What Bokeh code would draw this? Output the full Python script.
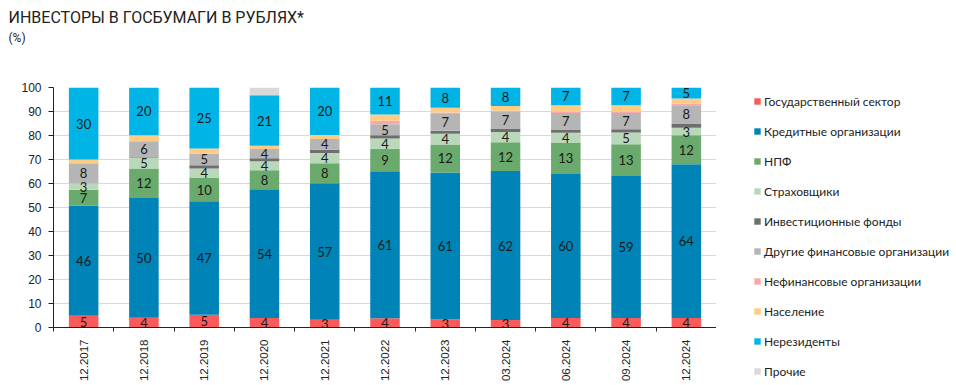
import math
from bokeh.plotting import figure
from bokeh.layouts import column, row
from bokeh.core.properties import value
from bokeh.models import (ColumnDataSource, FixedTicker, SingleIntervalTicker, Legend,
                          LegendItem, LabelSet, Label, Range1d)
from bokeh.embed import file_html
from bokeh.resources import INLINE

categories = ["12.2017", "12.2018", "12.2019", "12.2020", "12.2021", "12.2022",
              "12.2023", "03.2024", "06.2024", "09.2024", "12.2024"]

series_names = ["Государственный сектор", "Кредитные организации", "НПФ", "Страховщики",
                "Инвестиционные фонды", "Другие финансовые организации",
                "Нефинансовые организации", "Население", "Нерезиденты", "Прочие"]

gov        = [4.9, 4.1, 5.3, 4.0, 3.2, 3.9, 3.3, 3.1, 4.0, 4.0, 4.0]
banks      = [45.9, 49.9, 47.3, 53.6, 56.9, 61.2, 61.3, 62.1, 60.0, 59.1, 64.0]
npf        = [6.6, 12.2, 9.7, 7.9, 8.3, 9.4, 11.7, 12.0, 12.9, 13.3, 12.1]
insurers   = [2.6, 4.6, 3.9, 3.8, 4.3, 4.2, 4.4, 4.3, 4.2, 4.8, 3.1]
funds      = [0.0, 0.4, 1.4, 1.2, 1.4, 1.4, 1.3, 1.4, 1.4, 1.4, 1.8]
other_fin  = [8.4, 6.4, 4.9, 3.9, 4.4, 4.6, 7.0, 6.9, 6.9, 6.8, 7.6]
nonfin     = [0.0, 0.0, 0.0, 0.0, 0.0, 1.4, 0.6, 0.5, 0.4, 0.5, 0.6]
households = [1.6, 2.5, 2.1, 1.3, 1.7, 2.7, 2.0, 2.0, 2.8, 2.7, 2.2]
nonres     = [30.0, 19.9, 25.4, 21.1, 19.8, 11.2, 8.4, 7.7, 7.4, 7.4, 4.6]
others     = [0.0, 0.0, 0.0, 3.2, 0.0, 0.0, 0.0, 0.0, 0.0, 0.0, 0.0]

series_values = [gov, banks, npf, insurers, funds, other_fin, nonfin, households, nonres, others]
labelled = [True, True, True, True, False, True, False, False, True, False]
colors = ["#fa5a5a", "#0083b6", "#6aaa6c", "#b9d7b9", "#6e6e6e", "#b5b5b5",
          "#f9a9a9", "#ffcb85", "#00b5e6", "#d9d9d9"]

title_text = "ИНВЕСТОРЫ В ГОСБУМАГИ В РУБЛЯХ*"
subtitle_text = "(%)"

FONT = "Lato"
AXFONT = "Liberation Sans"


def blank(width, height):
    f = figure(width=width, height=height, output_backend="svg", toolbar_location=None,
               x_axis_location=None, y_axis_location=None, min_border=0,
               x_range=Range1d(0, 1), y_range=Range1d(0, 1))
    f.outline_line_color = None
    f.grid.visible = False
    f.title = None
    return f


# ---------- title strip ----------
head = blank(716, 79)
head.add_layout(Label(x=8, y=62, x_units="screen", y_units="screen", text=title_text,
                      text_font="Roboto", text_font_size="16px", text_color="#222222",
                      text_baseline="middle"))
head.add_layout(Label(x=8, y=42, x_units="screen", y_units="screen", text=subtitle_text,
                      text_font="Roboto", text_font_size="12px", text_color="#222222",
                      text_baseline="middle"))

# ---------- main chart ----------
keys = ["s%d" % i for i in range(len(series_values))]
xs = list(range(len(categories)))
data = {"x": xs}
for k, v in zip(keys, series_values):
    data[k] = v
src = ColumnDataSource(data)

p = figure(width=716, height=306, output_backend="svg", toolbar_location=None,
           x_range=(-0.5, len(categories) - 0.5), y_range=(0, 100),
           min_border_left=53, min_border_right=0, min_border_top=8, min_border_bottom=58)
p.title = None
p.outline_line_color = None

renderers = p.vbar_stack(keys, x="x", width=0.49, color=colors, line_color=None, source=src)

lx, ly, lt = [], [], []
for i in xs:
    base = 0.0
    for vals, lab in zip(series_values, labelled):
        v = vals[i]
        if lab and v > 0:
            lx.append(i)
            ly.append(base + v / 2.0)
            lt.append("%d" % int(math.floor(v + 0.5)))
        base += v
lsrc = ColumnDataSource(dict(x=lx, y=ly, t=lt))
p.add_layout(LabelSet(x="x", y="y", text="t", source=lsrc, text_align="center",
                      text_baseline="middle", text_font=value(FONT), text_font_size=value("13px"),
                      text_color="#1a1a1a"))

p.xgrid.visible = False
p.ygrid.grid_line_color = "#d9d9d9"
p.ygrid.grid_line_width = 1

p.yaxis.ticker = SingleIntervalTicker(interval=10)
p.yaxis.axis_line_color = "#222222"
p.yaxis.major_tick_line_color = "#222222"
p.yaxis.major_tick_out = 5
p.yaxis.major_tick_in = 0
p.yaxis.minor_tick_line_color = None
p.yaxis.major_label_text_font = AXFONT
p.yaxis.major_label_text_font_size = "12px"
p.yaxis.major_label_text_color = "#222222"
p.yaxis.major_label_standoff = 7

p.xaxis.ticker = FixedTicker(ticks=xs, minor_ticks=[i - 0.5 for i in xs] + [len(xs) - 0.5])
p.xaxis.major_label_overrides = {i: c for i, c in zip(xs, categories)}
p.xaxis.axis_line_color = "#222222"
p.xaxis.major_tick_line_color = None
p.xaxis.minor_tick_line_color = "#222222"
p.xaxis.minor_tick_out = 4
p.xaxis.minor_tick_in = 0
p.xaxis.major_label_orientation = math.pi / 2
p.xaxis.major_label_text_font = AXFONT
p.xaxis.major_label_text_font_size = "11.5px"
p.xaxis.major_label_text_color = "#222222"
p.xaxis.major_label_standoff = 6

# ---------- legend strip (full height) ----------
side = blank(240, 385)
dummies = [side.vbar(x=[-10], top=[0], width=0.5, color=c, line_color=None) for c in colors]
legend = Legend(items=[LegendItem(label=n, renderers=[r]) for n, r in zip(series_names, dummies)],
                location=(37, 4), orientation="vertical", padding=0, margin=0,
                spacing=10, label_height=20, glyph_width=8, glyph_height=8,
                label_standoff=3, label_text_font=FONT, label_text_font_size="12px",
                label_text_color="#222222", border_line_color=None,
                background_fill_alpha=0)
side.add_layout(legend, "center")

layout = row(column(head, row(p, spacing=0), spacing=0), side, spacing=0)

open("out.html", "w").write(file_html(layout, INLINE))
